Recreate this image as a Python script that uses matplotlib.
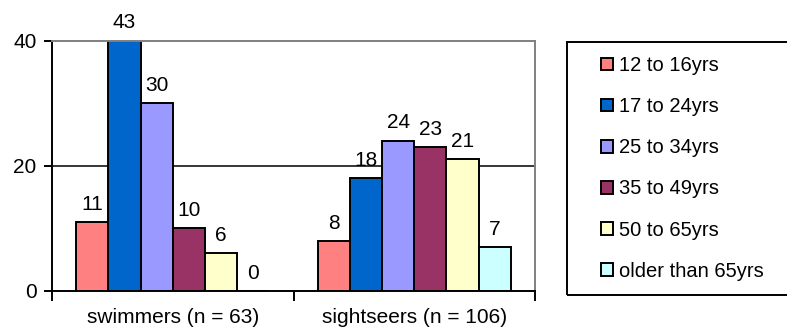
import matplotlib
matplotlib.use("Agg")
import matplotlib.pyplot as plt
from matplotlib.patches import Rectangle
import numpy as np

plt.rcParams['font.family'] = ['Liberation Sans', 'DejaVu Sans']

groups = ["swimmers (n = 63)", "sightseers (n = 106)"]
age_bands = ["12 to 16yrs", "17 to 24yrs", "25 to 34yrs",
             "35 to 49yrs", "50 to 65yrs", "older than 65yrs"]
swimmers = [11, 43, 30, 10, 6, 0]
sightseers = [8, 18, 24, 23, 21, 7]
colors = ["#FF8080", "#0066CC", "#9999FF", "#993366", "#FFFFCC", "#CCFFFF"]
y_ticks = [0, 20, 40]

values = np.array([swimmers, sightseers])  # shape (groups, bands)
ymax = 40

fig = plt.figure(figsize=(7.87, 3.33), dpi=100)
ax = fig.add_axes([52 / 787, 42 / 333, (535 - 52) / 787, (291 - 40.5) / 333])

n = len(age_bands)
width = 0.8 / n
x = np.arange(len(groups))
handles = []
for i, band in enumerate(age_bands):
    pos = x - 0.4 + width * (i + 0.5)
    bars = ax.bar(pos, values[:, i], width=width, color=colors[i],
                  edgecolor="black", linewidth=1.4, zorder=3, label=band)
    handles.append(bars)
    for xp, v in zip(pos, values[:, i]):
        ax.annotate(str(v), (xp, min(v, ymax)), xytext=(0, 6),
                    textcoords="offset points", ha="center", va="bottom",
                    fontsize=15, annotation_clip=False)

ax.set_xlim(-0.5, 1.5)
ax.set_ylim(0, ymax)
ax.set_yticks(y_ticks)
ax.set_yticklabels([str(t) for t in y_ticks], fontsize=15)
ax.tick_params(axis="y", direction="out", length=6, width=1.4, pad=5)

ax.set_xticks([-0.5, 0.5, 1.5])
ax.set_xticklabels([])
ax.tick_params(axis="x", which="major", direction="out", length=7, width=1.4)
ax.set_xticks(x, minor=True)
ax.set_xticklabels(groups, minor=True, fontsize=15)
ax.tick_params(axis="x", which="minor", length=0, pad=12)

ax.axhline(20, color="black", linewidth=1.1, zorder=2)
for side in ("left", "bottom"):
    ax.spines[side].set_color("black")
    ax.spines[side].set_linewidth(1.4)
for side in ("top", "right"):
    ax.spines[side].set_color("#808080")
    ax.spines[side].set_linewidth(1.4)
for sp in ax.spines.values():
    sp.set_zorder(4)

# legend frame
fig.patches.append(Rectangle((567 / 787, (333 - 295) / 333), (800 - 567) / 787,
                             253 / 333, transform=fig.transFigure,
                             facecolor="none", edgecolor="black", linewidth=1.4))
leg = fig.legend(handles=handles, labels=age_bands, loc="upper left",
                 bbox_to_anchor=(601 / 787, (333 - 56) / 333), frameon=False,
                 fontsize=14.5, handlelength=0.6, handleheight=0.6,
                 handletextpad=0.3, labelspacing=1.10, borderpad=0,
                 borderaxespad=0)

fig.savefig("out.png", dpi=100)
